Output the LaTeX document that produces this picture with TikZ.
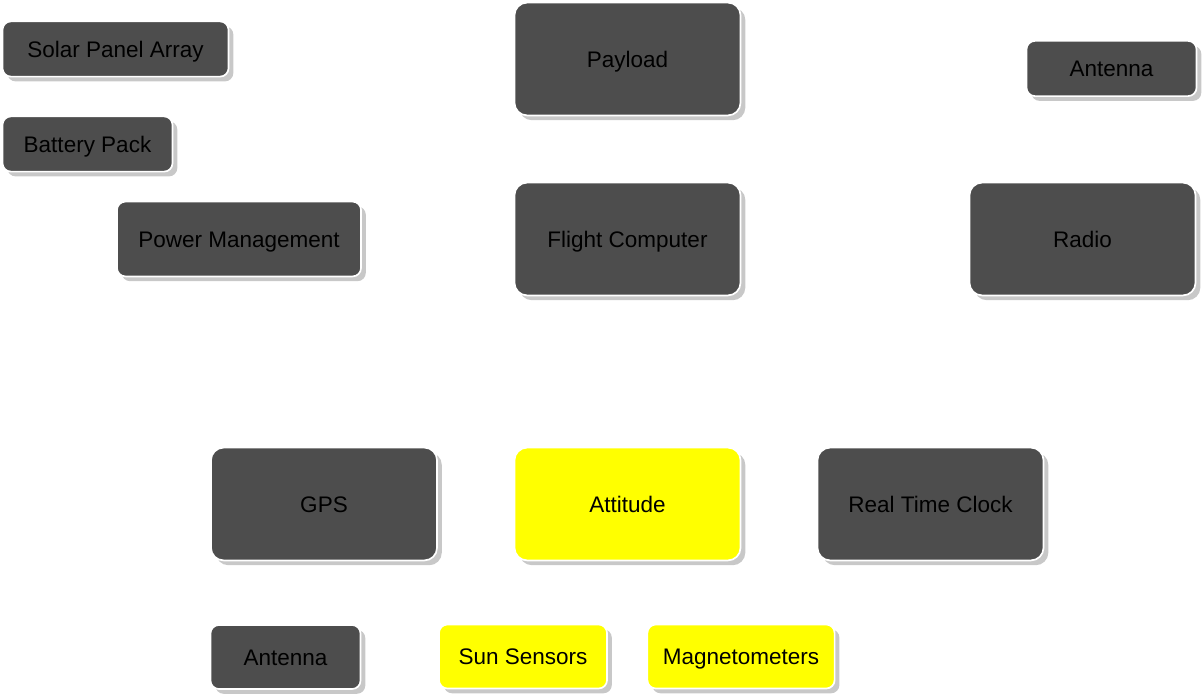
\documentclass[tikz,border=0pt]{standalone}
\usepackage{fontspec}
\setmainfont{Liberation Sans}
\usetikzlibrary{shadows}
\definecolor{boxgray}{HTML}{4D4D4D}
\definecolor{shadegray}{HTML}{C8C8C8}
\definecolor{sensyellow}{HTML}{FFFF00}
\begin{document}
\begin{tikzpicture}[x=0.025cm, y=-0.025cm,
  blk/.style={rectangle, rounded corners=6pt, fill=boxgray, draw=white, line width=1.2pt,
    inner sep=0pt, font=\fontsize{16}{19}\selectfont, text=black,
    text height=13pt, text depth=1.5pt,
    drop shadow={shadow xshift=0.12cm, shadow yshift=-0.12cm, fill=shadegray, opacity=1}},
  big/.style={blk, minimum width=5.65cm, minimum height=2.82cm, rounded corners=9pt},
  small/.style={blk, minimum height=1.38cm},
  att/.style={fill=sensyellow}]
\useasboundingbox (0,0) rectangle (1204,699);
% power
\node[small, minimum width=5.65cm] (solar) at (115.5,49) {Solar Panel Array};
\node[small, minimum width=4.25cm] (battery) at (87.5,144) {Battery Pack};
\node[small, minimum width=6.1cm, minimum height=1.87cm] (power) at (239,239) {Power Management};
% core
\node[big] (payload) at (627.5,59) {Payload};
\node[big] (flight) at (627.5,239) {Flight Computer};
% comms
\node[small, minimum width=4.25cm] (antennaT) at (1111.5,68.5) {Antenna};
\node[big] (radio) at (1082.5,239) {Radio};
% subsystems
\node[big] (gps) at (324,504) {GPS};
\node[big, att] (attitude) at (627.5,504) {Attitude};
\node[big] (clock) at (930.5,504) {Real Time Clock};
% sensors
\node[small, minimum width=3.75cm, minimum height=1.6cm] (antennaB) at (285.5,657) {Antenna};
\node[small, att, minimum width=4.2cm, minimum height=1.6cm] (sun) at (523,656.5) {Sun Sensors};
\node[small, att, minimum width=4.68cm, minimum height=1.6cm] (magneto) at (741,656.5) {Magnetometers};
\end{tikzpicture}
\end{document}
